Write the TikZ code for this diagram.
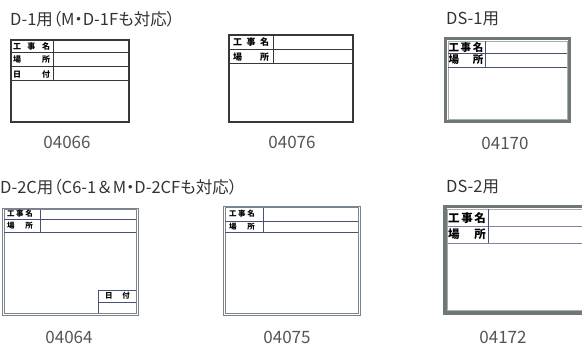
\documentclass[tikz,border=0pt]{standalone}
\usepackage{fontspec}
\newfontfamily\jp{Noto Sans CJK JP}
\newfontfamily\jpp[RawFeature=+palt]{Noto Sans CJK JP}
\usetikzlibrary{positioning}
\definecolor{textC} {RGB}{ 51, 51, 51}
\definecolor{codeC} {RGB}{ 85, 85, 85}
\definecolor{lineC} {RGB}{ 55, 55, 55}
\definecolor{frameC}{RGB}{112,120,118}
\definecolor{rowC}  {RGB}{ 70, 82,120}
\definecolor{dblC}  {RGB}{120,132,142}
\newcommand\spreadtxt[2]{\makebox[#1]{#2}}
\tikzset{
  title/.style={anchor=west, inner sep=0pt, text=textC, font=\jpp\fontsize{16.5}{16.5}\selectfont},
  code/.style={inner sep=0pt, text=codeC, font=\jp\fontsize{17}{17}\selectfont},
  head/.style={inner sep=0pt, font=\jp\bfseries\fontsize{#1}{#1}\selectfont},
  dblrule/.style={dblC, line width=0.6pt},
}
\begin{document}
\begin{tikzpicture}[x=1pt, y=-1pt]
\useasboundingbox (0,0) rectangle (582,347);

% ============================================================
% ROW 1 — D-1 and DS-1 boards
% ============================================================
\node[title] (t1) at (10,19) {D-1用（M・D-1Fも対応）};
\node[title] (t2) at (446,19) {DS-1用};

% Board 04066
\draw[lineC, line width=1.2pt] (11,40) rectangle (129,122);
\foreach \y in {53,67,81}
  \draw[lineC, line width=1pt] (11,\y) -- (129,\y);
\draw[lineC, line width=1pt] (53,40) -- (53,81);
\node[head=8] (b1a) at (31.5,46.5) {\spreadtxt{37pt}{工\hfill 事\hfill 名}};
\node[head=8] (b1b) at (31.5,60)   {\spreadtxt{37pt}{場\hfill 所}};
\node[head=8] (b1c) at (31.5,74)   {\spreadtxt{37pt}{日\hfill 付}};
\node[code] (c1) at (67,142) {04066};

% Board 04076
\draw[lineC, line width=1.2pt] (229,35) rectangle (353,122);
\foreach \y in {50,64}
  \draw[lineC, line width=1pt] (229,\y) -- (353,\y);
\draw[lineC, line width=1pt] (273,35) -- (273,64);
\node[head=9] (b2a) at (251,42.5) {\spreadtxt{36pt}{工\hfill 事\hfill 名}};
\node[head=9] (b2b) at (251,57)   {\spreadtxt{36pt}{場\hfill 所}};
\node[code] (c2) at (292,142) {04076};

% Board 04170 (heavy frame)
\draw[frameC, line width=3pt] (445.5,38.5) rectangle (569.5,121.5);
\draw[frameC!60, line width=0.5pt] (448,41) rectangle (567,119);
\foreach \y in {53,67}
  \draw[rowC, line width=0.7pt] (448,\y) -- (567,\y);
\draw[rowC, line width=0.7pt] (485,41) -- (485,67);
\node[head=10.5] (b3a) at (466,47) {\spreadtxt{35pt}{工\hfill 事\hfill 名}};
\node[head=10.5] (b3b) at (466,60) {\spreadtxt{35pt}{場\hfill 所}};
\node[code] (c3) at (505,143) {04170};

% ============================================================
% ROW 2 — D-2C and DS-2 boards
% ============================================================
\node[title] (t3) at (0,187) {D-2C用（C6-1{\jp ＆}M・D-2CFも対応）};
\node[title] (t4) at (446,187) {DS-2用};

% Board 04064 (double edge, date box bottom right)
\draw[dblrule] (2,208) rectangle (138,315);
\draw[dblrule] (3.8,209.8) rectangle (136.2,313.2);
\foreach \y in {219,232}
  \draw[rowC, line width=0.8pt] (3.8,\y) -- (136.2,\y);
\draw[rowC, line width=0.8pt] (40,209.8) -- (40,232);
\draw[rowC, line width=0.8pt] (98,313.2) -- (98,290) -- (136.2,290);
\draw[rowC, line width=0.8pt] (98,302) -- (136.2,302);
\node[head=7.5] (b4a) at (20,213.8)  {\spreadtxt{26pt}{工\hfill 事\hfill 名}};
\node[head=7.5] (b4b) at (20,225.5)  {\spreadtxt{26pt}{場\hfill 所}};
\node[head=7.5] (b4c) at (117.5,296) {\spreadtxt{25pt}{日\hfill 付}};
\node[code] (c4) at (69,337) {04064};

% Board 04075
\draw[dblrule] (223,206) rectangle (360,315);
\draw[dblrule] (224.8,207.8) rectangle (358.2,313.2);
\foreach \y in {221,232}
  \draw[rowC, line width=0.8pt] (224.8,\y) -- (358.2,\y);
\draw[rowC, line width=0.8pt] (263,207.8) -- (263,232);
\node[head=7.5] (b5a) at (242,214) {\spreadtxt{26pt}{工\hfill 事\hfill 名}};
\node[head=7.5] (b5b) at (242,226.5) {\spreadtxt{26pt}{場\hfill 所}};
\node[code] (c5) at (287,337) {04075};

% Board 04172 (heavy frame, runs off the right edge)
\draw[frameC, line width=3.5pt] (444.75,206.75) rectangle (590,313.25);
\draw[frameC!60, line width=0.5pt] (447.5,209.5) rectangle (590,310.5);
\foreach \y in {226,243}
  \draw[rowC!70, line width=0.7pt] (447.5,\y) -- (590,\y);
\draw[rowC, line width=0.7pt] (488,209.5) -- (488,243);
\node[head=11.5] (b6a) at (467,218)   {\spreadtxt{38pt}{工\hfill 事\hfill 名}};
\node[head=11.5] (b6b) at (467,234.5) {\spreadtxt{38pt}{場\hfill 所}};
\node[code] (c6) at (503,337) {04172};

\end{tikzpicture}
\end{document}
